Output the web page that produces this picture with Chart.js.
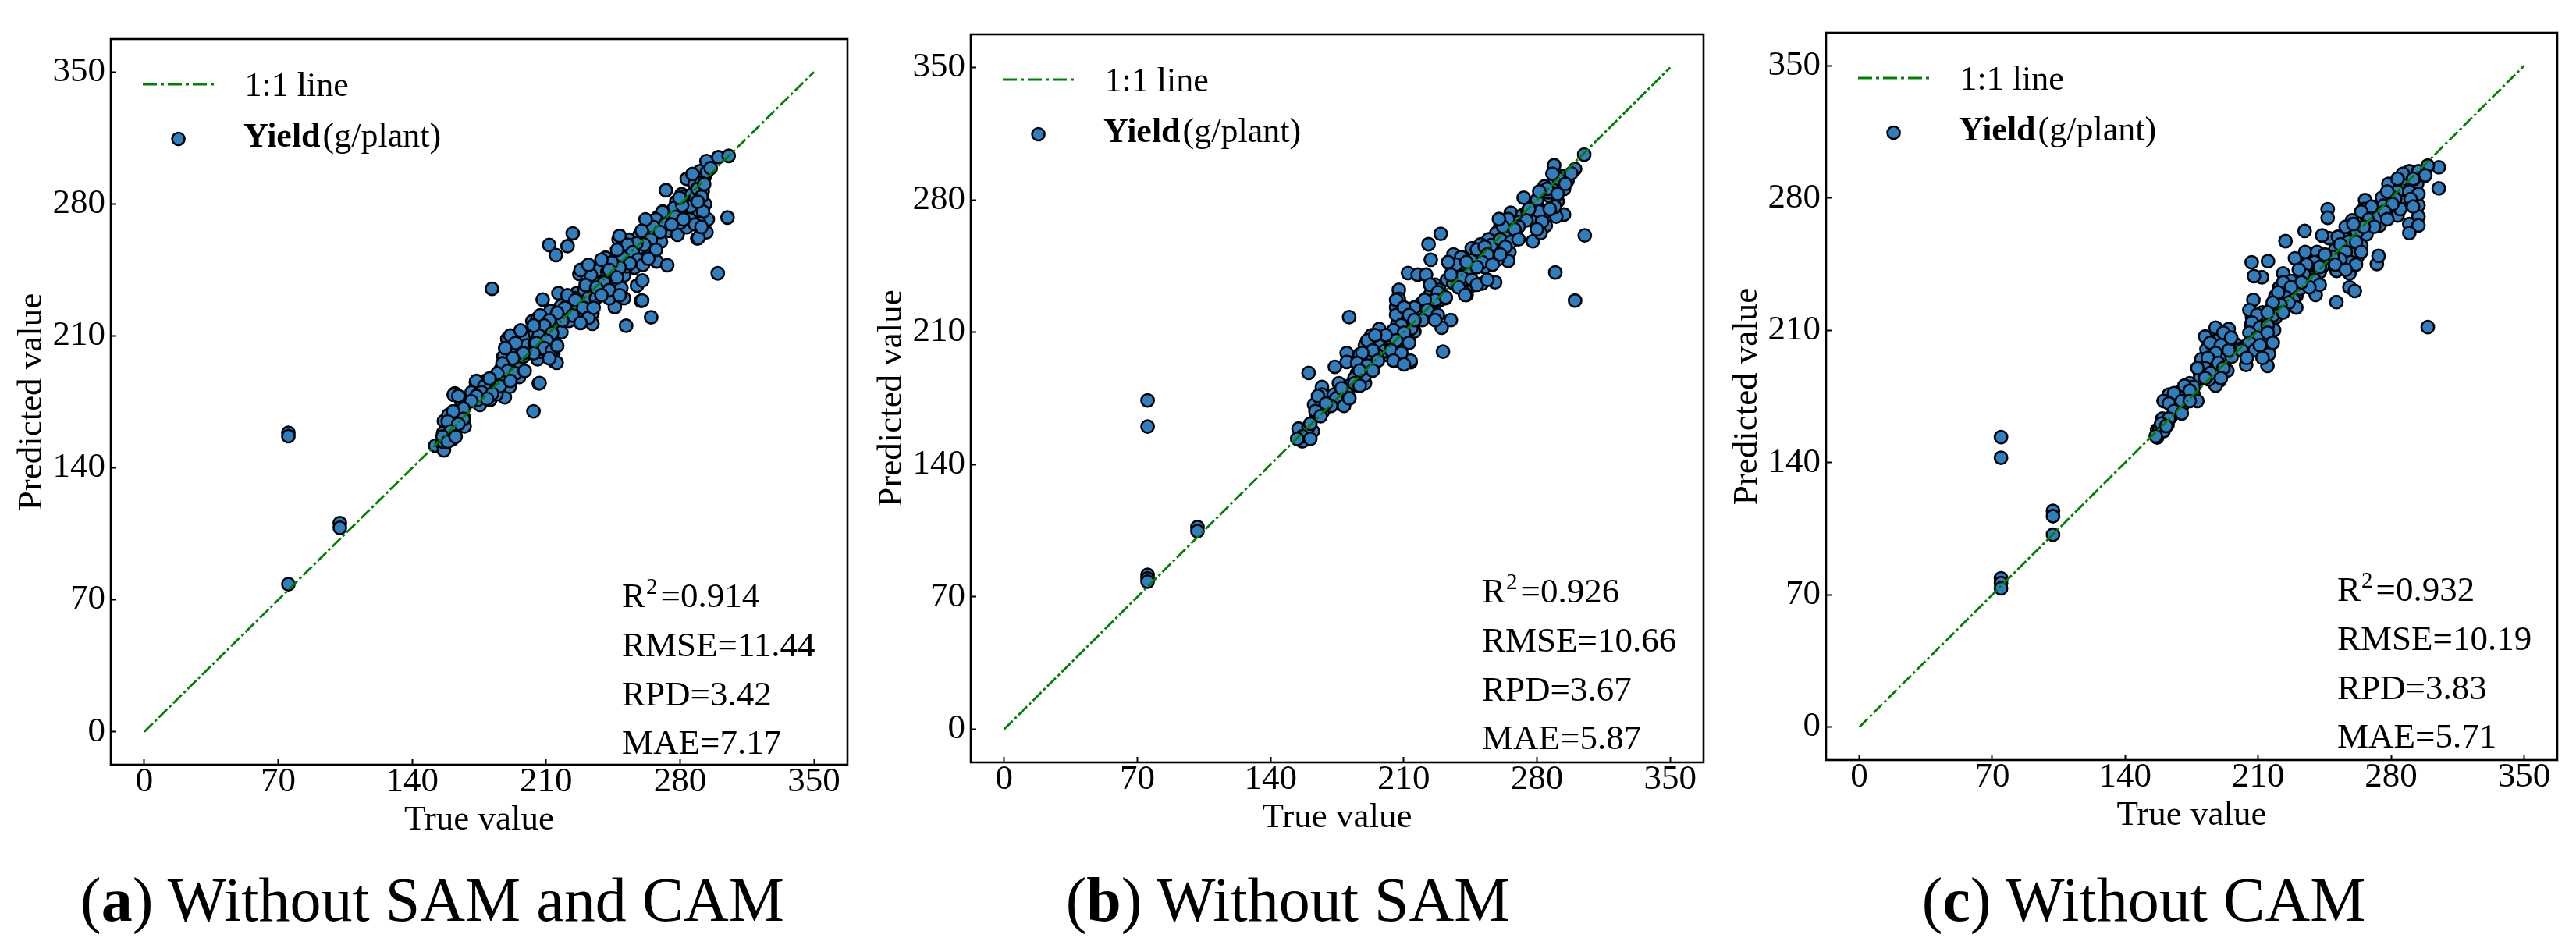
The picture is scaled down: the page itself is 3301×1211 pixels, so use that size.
<!DOCTYPE html>
<html>
<head>
<meta charset="utf-8">
<script src="https://cdn.jsdelivr.net/npm/chart.js@4.4.1/dist/chart.umd.min.js"></script>
<style>
  html, body { margin:0; padding:0; background:#fff; width:3301px; height:1211px; overflow:hidden; }
  canvas { position:absolute; }
  .cap { position:absolute; width:1200px; text-align:center; top:1113px; font-family:"Liberation Serif", serif; font-size:80px; line-height:80px; color:#000; white-space:nowrap; }
</style>
</head>
<body>
<canvas id="cA" width="1098" height="1101" style="left:2px;top:9px;"></canvas>
<canvas id="cB" width="1093" height="1104" style="left:1104px;top:3px;"></canvas>
<canvas id="cC" width="1091" height="1103" style="left:2200px;top:1px;"></canvas>
<div class="cap" style="left:-46px;">(<b>a</b>) Without SAM and CAM</div>
<div class="cap" style="left:1050px;">(<b>b</b>) Without SAM</div>
<div class="cap" style="left:2147px;">(<b>c</b>) Without CAM</div>
<script>
// ---- data (true value, predicted value) ----
const tickValues = [0, 70, 140, 210, 280, 350];
const oneToOne = [0, 350];
const xTitle = 'True value';
const yTitle = 'Predicted value';
const legendLineLabel = '1:1 line';
const legendPointBold = 'Yield';
const legendPointRest = '(g/plant)';

const statsA = ['0.914', 'RMSE=11.44', 'RPD=3.42', 'MAE=7.17'];
const statsB = ['0.926', 'RMSE=10.66', 'RPD=3.67', 'MAE=5.87'];
const statsC = ['0.932', 'RMSE=10.19', 'RPD=3.83', 'MAE=5.71'];

const yieldA = [
[75.3,158.6],[75.3,156.8],[75.3,78.3],[102.2,110.7],[102.2,108.2],
[152.1,151.8],[155.5,153.2],[156.2,158.5],[161,155.2],[156.6,164.8],[158.9,168],[161.7,161.2],[167.1,166.6],[162.3,179.5],[167.4,162],[162.3,156.4],[165.8,174.7],[161.7,178.8],[156.6,149.3],[156.6,153.6],
[173.3,185.5],[175.4,173.4],[177.4,178.8],[179.5,182.8],[180.8,176.1],[185,185.5],[188.4,177.4],[186.3,192.2],[187.7,199],[190.4,188.2],[189.7,208.4],[192.5,203],[194.5,193.6],[195.9,188.2],[195.9,208.4],[181.7,235],[171,180],[174,176],[176,181],[183,181],[183,188],[178,186],[184,179],[190,194],[191,183],[193,198],[197,204],[198,199],[199,210],[200,205],
[202.8,217.8],[204.1,211.1],[205.5,219.2],[205.5,197.6],[206.9,201.7],[206.2,184.8],[203.4,170],[208.2,212.5],[208.2,229.3],[211.6,205.7],[212.3,223.2],[213.7,200.3],[214.4,196.3],[216.4,215.2],[216.4,232.7],[217.8,225.9],[220.5,219.2],[223.3,228.6],[226,232.7],[226,225.9],[228.8,220.5],[227.4,242.8],[231.5,242.1],[234.2,221.9],[234.2,216.5],[211.6,258.3],[215.1,252.9],[221.2,257.6],[223.9,264.4],[206.6,185],[215.5,195.8],[210,210],[212,215],[214,208],[218,212],[219,222],[222,218],[224,224],[225,230],[228,228],[230,234],[232,230],[209,203],[207,207],[204,206],
[239.7,232.7],[239.7,242.1],[241.1,251.5],[245.2,239.4],[245.2,236.7],[245.9,225.3],[249.3,235.4],[250.7,242.1],[250.7,230],[251.8,215.4],[252,252.9],[253.4,261],[247.9,261],[256.1,246.2],[257.5,236.7],[260.3,239.4],[259.6,228.6],[258.9,263.7],[263,255.6],[263,268.4],[264.9,219.9],[260.2,228.8],[236,238],[238,245],[242,244],[244,248],[246,245],[248,250],[252,247],[254,251],[255,256],[257,252],[259,257],[261,260],[262,250],[264,262],[236,230],[243,230],
[267.8,249.5],[268.5,273.1],[272.6,287.3],[273.3,247.5],[274.6,265.7],[275.3,275.8],[278,281.2],[278.7,263.7],[280.8,285.2],[283.5,293.3],[283.5,267.7],[287.6,290.6],[287.6,276.5],[289,261.7],[290.4,297.4],[291.8,286.6],[293.1,294.7],[293.1,279.9],[293.8,302.8],[294.5,271.8],[293.8,265],[300,304.8],[305.4,305.5],[304.8,272.8],[299.7,243.2],[289.6,262],[266,266],[268,262],[270,268],[271,276],[273,270],[276,272],[279,276],[281,279],[282,284],[284,280],[286,285],[288,283],[289,288],[291,291],[292,276],[290,270],[285,272],[280,270],[277,278],[270,260],[294,297],[296,299],
[286.5,295.9],[289.2,287.9],[291.2,283.9],[285.1,278.5],[281.1,279.2],[289.2,281.2],[292.6,290.5],[279.7,283.2],[277.6,273.1],[281.7,271.8],[287.8,269.1],[291.2,267.8],
[270.8,275.8],[267.4,271.8],[272.2,269.1],[266.1,267.8],[269.5,265.1],[275.6,269.1],
[262,271.8],[260,265.8],[264.7,261.1],[261.3,258.4],[267.4,255.7],[257.2,259.1],
[248.4,263.1],[252.5,258.4],[255.2,254.4],[249.8,251.7],[247.1,255.7],[258,250.4],[253.8,248.4],[248.4,246.3],[244.3,249],[260.6,247.7],[263.4,251],
[238.9,250.4],[243,245],[240.3,238.3],[233.4,242.3],[230.7,237],[236.2,235.6],[247,241],[243,234.3],[248.4,231.6],[238.9,231.6],[228,245],[232.1,247.7],
[221.2,231.6],[225.3,229],[229.4,224.9],[219.9,224.9],[223.9,220.9],[232.1,219.6],[228,216.9],[218.5,218.2],[215.8,222.2],[234.8,224.9],
[206.9,220.9],[211.7,218.2],[209,215.5],[213.1,211.5],[206.2,210.2],[210.3,207.5],[204.9,206.2],[209,203.5],[213.1,202.2],[203.5,200.8],[211.7,198.1],[215.8,204.8],[203.5,215.5],
[191.3,210.2],[196.7,212.9],[194,206.2],[188.6,203.5],[198.1,200.8],[192.6,198.1],[187.2,195.4],[189.9,191.4],[194,190.1],[198.8,191.4],[184.5,190.1],[185.8,183.4],[191.3,186.1],
[173.6,186.1],[177.7,183.4],[180.4,187.4],[176.3,180.1],[181.8,179.4],[179.1,176.7],[173.6,178.1],[170.9,175.4],
[164.1,178.1],[166.8,171.4],[161.4,170],[166.8,166],[158.6,164.6],[164.1,163.3],[160,159.3],[155.9,156.6],[158.6,153.9],[162.7,156.6]
];

const yieldB = [
[75.4,173.9],[75.4,160.1],[75.4,81.7],[75.4,79.8],[75.4,78.1],[101.6,107],[101.6,104.8],[181.3,218],[160,188.5],[230.6,199.7],[300,226.7],[289.6,241.6],[305.1,261.2],[304.8,303.9],[300,296.3],[289,298.3],[277.8,258.1],[294.2,272.2],[223,256.5],[229.4,262],[212.2,241.3],[217.3,240.4],[224.2,248.3],[213.6,194.1],[207.3,195],
[293.5,292.4],[289.4,289.8],[283.9,287.1],[294.2,285.8],[282.6,283.1],[273,281.1],[286.7,281.8],[290.8,279.1],[279.9,277.8],[266.2,273.1],[272.3,271.8],[284.6,273.8],[290.1,271.1],[277.8,270.4],[284.6,266.4],[281.9,262.4],[263.4,268.4],[260.7,265.8],[268.9,261.8],[264.8,263.1],[258.6,262.4],[254.5,259.1],[250.4,256.4],[256.6,253.7],[265.5,252.4],[264.8,247.7],[259.3,248.4],[253.9,249.7],[248.4,252.4],[245.7,254.4],[252.5,244.4],[258,236.4],[251.1,235.7],[244.3,233.7],[243,229.7],[240.2,233.7],[238.8,241.7],[235.4,243.7],[236.1,251.1],[245,242.4],[232.7,237.7],[229.2,227.1],[221.7,240.4],[226.5,235.1],[223.8,229.7],[228.6,232.4],[219,225],[225.8,221.7],[234.7,216.4],[229.9,212.4],[207.4,232.4],[207.4,227.7],[206,223],[210.1,217.7],[206.7,215],[212.8,214.4],[218.3,217.7],[215.6,210.4],[208.7,207],[203.9,203],[207.4,195],[213.5,195],[201.9,197.7],[197.1,211.7],[196.4,204.4],[193,208.4],[189.6,203],[186.8,198.3],[180,199],[180,194.3],[192.3,195],[188.2,192.4],[192.3,189.7],[189.6,183],[185.5,188.4],[184.1,185.7],[181.4,181.7],[173.8,191.7],[167,181],[167,177],[173.2,177],[177.3,176.3],[178.6,173.7],[175.9,172.3],[162.9,171.6],[167.7,168.3],[158.1,157.6],[162.2,157.6],[156.1,154.3],[154.7,159],[156.7,152.3],
[270,268],[275,274],[280,280],[286,284],[262,258],[256,256],[248,246],[242,238],[236,236],[232,228],[226,226],[220,220],[214,212],[210,210],[204,206],[200,200],[196,198],[190,190],[184,182],[178,180],[170,172],[164,166],[160,160],[240,246],[246,248],[296,290],[298,294],
[291.5,291.1],[294.9,288.4],[288.1,293.8],[285.3,285.8],[290.8,283.1],[281.2,284.4],[289.4,276.4],
[281.2,273.8],[286.7,275.1],[275.8,275.1],[282.6,268.4],[279.9,264.4],[274.4,269.1],[270.3,265.8],
[264.8,269.8],[262.1,265.8],[268.2,264.4],[260.7,259.1],[266.2,257.7],[270.3,259.1],[263.4,255.1],[260,269.8],
[248.4,253.7],[252.5,255.1],[253.9,251.1],[251.1,247.1],[248.4,244.4],[256.6,245.7],[260.7,251.1],[240.2,249.7],[237.4,245.7],[242.9,247.1],[240.2,239.1],[234.7,240.4],[233.3,247.1],[245.7,237.7],[238.8,233.7],[248.4,235.1],[253.9,237.7],[242.2,229.7],
[223.8,235.1],[227.9,231.1],[226.5,227.1],[221,227.1],[232,228.4],[222.4,221.7],[227.9,219.1],[219.7,216.4],[226.5,216.4],[215.6,223.1],
[206,227.1],[206,219.1],[210.1,223.1],[212.8,219.1],[208.7,213.7],[215.6,216.4],[204.6,211],[210.1,209.7],[206,205.7],[212.8,204.4],[203.3,200.4],[208.7,199],[204.6,195],[210.1,193],[200.5,208.4],
[190.9,205.7],[195,208.4],[193.7,200.4],[188.2,199],[185.5,193.7],[190.9,192.4],[196.4,195],[189.6,187],[193.7,189.7],[186.8,189.7],[184.1,183],[186.8,181.7],
[175.9,183],[180,177.7],[174.5,175],[178.6,171],[171.8,171],[181.4,175],[177.3,180.3],
[164.9,176.3],[169.1,172.3],[163.6,168.3],[166.3,165.6],[160.9,161.6],[156.7,154.9],[160.9,153.6],[154,153.6]
];

const yieldC = [
[74.6,153.5],[74.6,142.5],[74.6,78.7],[74.6,76.2],[74.6,73.4],[102,114.4],[102,111.6],[102,101.8],[299.3,211.7],[305.1,296.3],[305.1,285.1],[299.3,297.2],[251.2,224.9],[214.9,191.2],[203.7,191.7],[206.6,246],[215.2,246.6],[212,238.1],[207.8,238.7],[224.4,257.2],[234.5,262.6],[246.6,274.1],[246.6,269.6],[272.5,245.1],[273.4,249.4],
[289.6,294.2],[294.4,294.2],[293.7,287.5],[286.2,287.5],[278.6,287.5],[283.4,283.5],[289.6,283.5],[275.2,280.2],[266.3,278.9],[287.5,278.2],[294.4,276.2],[278,274.2],[283.4,270.8],[294.4,270.2],[289.6,266.2],[294.4,265.5],[289.6,261.5],[273.9,265.5],[267,270.2],[265.6,274.2],[259.5,268.2],[267,260.8],[260.2,260.8],[256,258.2],[264.3,254.8],[262.2,248.8],[258.8,250.8],[254.7,249.5],[250.6,252.8],[247.2,258.8],[243.7,260.2],[229.4,248.1],[234.8,251.5],[241,249.5],[245.1,246.1],[241,244.8],[235.5,242.1],[242.4,240.8],[251.3,241.5],[258.1,240.1],[258.1,232.8],[260.9,230.8],[240.3,228.8],[236.2,235.4],[223.2,240.1],[227.3,236.1],[221.2,232.8],[226,230.8],[230.1,228.1],[222.5,226.1],[219.1,228.1],[207.5,226.1],[216.4,220.7],[212.3,219.4],[219.1,216.7],[206.8,216.7],[206.1,212.7],[212.9,211.4],[218.4,210.1],[214.3,205.4],[206.8,208.7],[204,202.1],[197.9,202.7],[204,197.4],[215.7,197.4],[194.5,210.7],[188.3,204.7],[182.1,206.7],[182.8,200],[180.1,194.7],[187.6,191.3],[191.7,195.4],[193.8,188.7],[185.6,186],[179.4,187.4],[179.4,184.7],[189.7,183.3],[187.6,180.7],[173.9,182],[168.5,177.3],[163,176],[160.2,172.6],[176,176],[178,172.6],[167.8,168],[159.6,163.3],[162.3,160],[156.8,157.3],[156.8,153.3],[157.5,155.3],
[270,270],[276,276],[282,280],[286,290],[262,262],[256,254],[250,248],[244,244],[238,238],[232,232],[228,224],[224,222],[218,218],[212,214],[208,204],[200,200],[196,196],[190,190],[184,184],[176,180],[170,170],[164,164],[158,158],[298,292],[292,290],
[286.2,292.9],[291.6,290.2],[283.4,290.2],[294.4,282.2],[290.3,279.5],[282.1,279.5],[278,283.5],[284.8,274.2],[291.6,275.5],[280.7,276.8],
[269.7,275.5],[264.3,272.8],[268.4,268.8],[273.9,270.2],[276.6,272.8],[271.1,264.8],[265.6,264.8],[278,268.8],
[256.1,264.8],[260.2,266.2],[252,259.5],[257.4,256.8],[261.5,256.8],[253.3,255.5],[264.3,251.5],[256.1,251.5],[258.8,246.1],[261.5,244.8],[253.3,247.5],[249.2,248.8],[250.6,244.8],[256.1,242.1],
[241,251.5],[243.7,247.5],[239.6,246.1],[235.5,244.8],[242.4,243.5],[245.1,250.1],[234.2,239.4],[239.6,236.8],[242.4,234.1],[236.9,232.8],[232.8,235.4],[231.4,242.1],
[223.2,235.4],[227.3,232.8],[224.6,227.4],[228.7,226.1],[220.5,230.1],[230.1,222.1],[226,224.7],[221.8,223.4],[217.7,224.7],[223.2,219.4],
[205.4,220.7],[209.5,218.1],[215,219.4],[206.8,214.1],[210.9,211.4],[215,212.7],[205.4,208.7],[209.5,206.1],[215,208.7],[217.7,203.4],[205.4,203.4],[208.2,199.4],[201.3,199.4],[204,195.4],[210.9,202.1],[212.3,195.4],
[187.6,211.4],[191.7,208.7],[195.8,206.1],[184.9,203.4],[190.4,202.1],[187.6,198],[194.5,199.4],[183.5,195.4],[189,192.7],[182.1,190],[191.7,190],[184.9,187.4],[178,190],[182.1,184.7],[190.4,184.7],
[171.2,180.7],[165.7,176.7],[174,178],[169.8,172.6],[163,171.3],[174,172.6],[165.7,167.3],[169.8,166],[163,163.3],[158.9,160.6],[160.2,156.6],[156.1,154],[161.6,159.3]
];

// ---- styling ----
const FONT = '"Liberation Serif", "Times New Roman", serif';
const POINT_FILL = '#2f7ebf';
const LINE_COLOR = '#008000';
const LINE_DASH = [15.5, 3.5, 3.5, 3.5];
Chart.defaults.font.family = FONT;
Chart.defaults.color = '#000';

const panelDecor = {
  id: 'panelDecor',
  afterDatasetsDraw(chart, args, opts) {
    const ctx = chart.ctx, a = chart.chartArea;
    ctx.save();
    ctx.strokeStyle = '#000'; ctx.lineWidth = 2.6; ctx.setLineDash([]);
    ctx.strokeRect(a.left, a.top, a.right - a.left, a.bottom - a.top);
    ctx.strokeStyle = LINE_COLOR; ctx.lineWidth = 3; ctx.setLineDash([18, 5, 4, 5]);
    ctx.beginPath(); ctx.moveTo(a.left + 41, a.top + 58); ctx.lineTo(a.left + 132.3, a.top + 58); ctx.stroke();
    ctx.setLineDash([]);
    ctx.fillStyle = '#000'; ctx.textAlign = 'left'; ctx.textBaseline = 'alphabetic';
    ctx.font = '44px ' + FONT;
    ctx.fillText(legendLineLabel, a.left + 171.6, a.top + 73.3);
    ctx.beginPath(); ctx.arc(a.left + 86.6, a.top + 128, 8, 0, Math.PI * 2);
    ctx.fillStyle = POINT_FILL; ctx.fill();
    ctx.lineWidth = 2.6; ctx.strokeStyle = '#000'; ctx.stroke();
    ctx.fillStyle = '#000';
    ctx.font = 'bold 44px ' + FONT;
    ctx.fillText(legendPointBold, a.left + 170, a.top + 138.3);
    const wb = ctx.measureText(legendPointBold).width;
    ctx.font = '44px ' + FONT;
    ctx.fillText(legendPointRest, a.left + 170 + wb + 3, a.top + 138.3);
    const s = opts.stats;
    const x0 = a.left + 655;
    ctx.font = '45px ' + FONT;
    ctx.fillText('R', x0, a.top + 727.5);
    const wR = ctx.measureText('R').width;
    ctx.font = '29px ' + FONT;
    ctx.fillText('2', x0 + wR + 1, a.top + 710.9);
    const w2 = ctx.measureText('2').width;
    ctx.font = '45px ' + FONT;
    ctx.fillText('=' + s[0], x0 + wR + w2 + 5, a.top + 727.5);
    ctx.fillText(s[1], x0, a.top + 790.6);
    ctx.fillText(s[2], x0, a.top + 853.6);
    ctx.fillText(s[3], x0, a.top + 915.7);
    ctx.restore();
  }
};

function makeChart(id, pts, stats) {
  new Chart(document.getElementById(id), {
    type: 'scatter',
    data: {
      datasets: [
        {
          label: legendLineLabel,
          data: oneToOne.map(v => ({ x: v, y: v })),
          showLine: true, fill: false,
          borderColor: LINE_COLOR, borderWidth: 2.8, borderDash: LINE_DASH,
          pointRadius: 0, pointHoverRadius: 0, order: 0
        },
        {
          label: legendPointBold + legendPointRest,
          data: pts.map(p => ({ x: p[0], y: p[1] })),
          pointBackgroundColor: POINT_FILL, pointBorderColor: '#000', pointBorderWidth: 2.6,
          pointRadius: 8.1, pointHoverRadius: 8.1, order: 1
        }
      ]
    },
    options: {
      responsive: false, animation: false, devicePixelRatio: 1,
      layout: { padding: { left: 0, top: 12, right: 14, bottom: 0 } },
      plugins: { legend: { display: false }, tooltip: { enabled: false }, panelDecor: { stats } },
      scales: {
        x: {
          type: 'linear', min: -17.5, max: 367.5,
          afterBuildTicks: sc => { sc.ticks = tickValues.map(v => ({ value: v })); },
          afterFit: sc => { sc.height = 130; },
          ticks: { font: { size: 45 }, color: '#000', padding: 2.5, autoSkip: false, maxRotation: 0 },
          grid: { drawOnChartArea: false, drawTicks: true, tickLength: -7, tickWidth: 2, tickColor: '#000' },
          border: { display: false },
          title: { display: true, text: xTitle, font: { size: 45 }, color: '#000', padding: { top: 0, bottom: 32 } }
        },
        y: {
          type: 'linear', min: -17.5, max: 367.5,
          afterBuildTicks: sc => { sc.ticks = tickValues.map(v => ({ value: v })); },
          afterFit: sc => { sc.width = 140; },
          ticks: { font: { size: 45 }, color: '#000', padding: 14, autoSkip: false },
          grid: { drawOnChartArea: false, drawTicks: true, tickLength: -7, tickWidth: 2, tickColor: '#000' },
          border: { display: false },
          title: { display: true, text: yTitle, font: { size: 45 }, color: '#000', padding: { top: 11.8, bottom: 0 } }
        }
      }
    },
    plugins: [panelDecor]
  });
}

makeChart('cA', yieldA, statsA);
makeChart('cB', yieldB, statsB);
makeChart('cC', yieldC, statsC);
</script>
</body>
</html>
